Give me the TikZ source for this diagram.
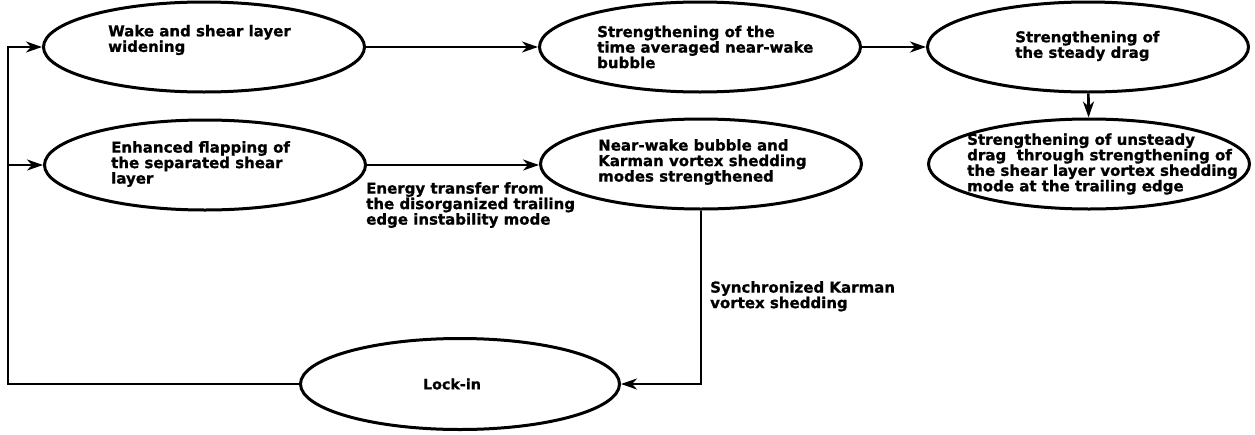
\documentclass[tikz,border=0pt]{standalone}
\usepackage{fontspec}
\setmainfont[BoldFeatures={FakeBold=1.0}]{DejaVu Sans}
\usetikzlibrary{arrows.meta,shapes.geometric}
\begin{document}
\begin{tikzpicture}[x=1pt,y=-1pt,
  ell/.style={draw,ellipse,line width=3pt,inner sep=0pt,minimum width=321pt,minimum height=90pt},
  txt/.style={inner sep=0pt,align=left,font=\fontsize{15}{15.5}\selectfont\bfseries},
  arr/.style={line width=2.6pt,-{Stealth[length=16pt,width=11pt,inset=5pt]}}]
\useasboundingbox (0,0) rectangle (1255,434);
% ellipses
\node[ell] (e1) at (204,47) {};
\node[ell] (e2) at (700,47) {};
\node[ell] (e3) at (1088,47) {};
\node[ell] (e4) at (205,165) {};
\node[ell] (e5) at (701,164) {};
\node[ell] (e6) at (1089,164) {};
\node[ell,minimum width=319pt,minimum height=91pt] (lock) at (460,384) {};
% texts
\node[txt,anchor=west] (t1) at (108,40) {Wake and shear layer\\widening};
\node[txt,anchor=west] (t2) at (597,47) {Strengthening of the\\time averaged near-wake\\bubble};
\node[txt,anchor=west] (t3) at (1015,46) {Strengthening of\\the steady drag};
\node[txt,anchor=west] (t4) at (111,164) {Enhanced flapping of\\the separated shear\\layer};
\node[txt,anchor=west] (t5) at (598,162) {Near-wake bubble and\\Karman vortex shedding\\modes strengthened};
\node[txt,anchor=west] (t6) at (967,164) {Strengthening of unsteady\\drag\ \ through strengthening of\\the shear layer vortex shedding\\mode at the trailing edge};
\node[txt,font=\fontsize{14.3}{15.5}\selectfont\bfseries] (t7) at (452,384) {Lock-in};
% edge labels
\node[txt,anchor=north west] (l1) at (366,182) {Energy transfer from\\the disorganized trailing\\edge instability mode};
\node[txt,anchor=north west] (l2) at (710,281) {Synchronized Karman\\vortex shedding};
% connectors
\coordinate (L) at (8,384);
\draw[arr] (e1) -- (e2);
\draw[arr] (e2) -- (e3);
\draw[arr] (e3) -- (e6);
\draw[arr] (e4.east) -- (e5.west |- e4.east);
\draw[arr] (e5.south) |- (lock.east);
\draw[arr] (lock.west) -- (L) |- (e1.west);
\draw[arr] (L |- e4.west) -- (e4.west);
\end{tikzpicture}
\end{document}
